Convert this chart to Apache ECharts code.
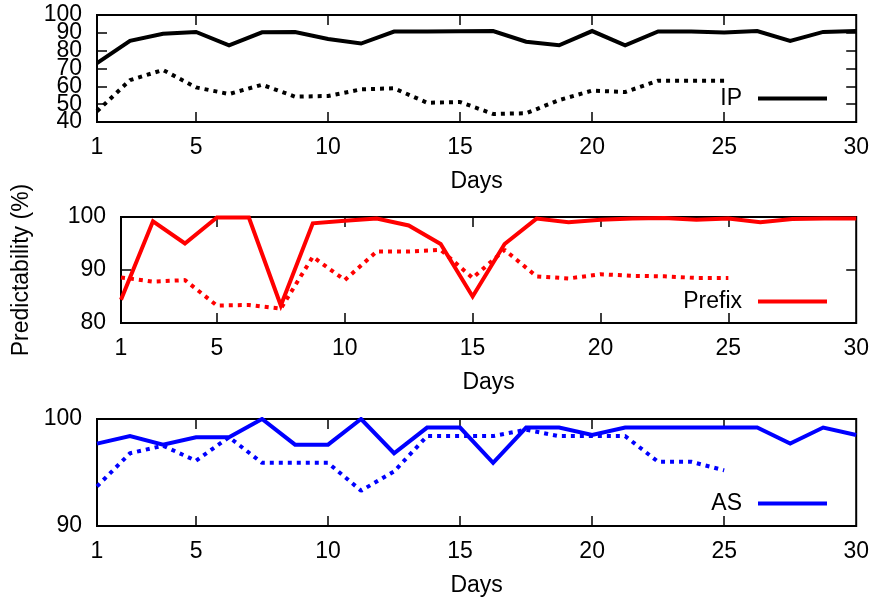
<!DOCTYPE html>
<html>
<head>
<meta charset="utf-8">
<script src="https://cdn.jsdelivr.net/npm/echarts@6/dist/echarts.min.js"></script>
<style>
  html, body { margin: 0; padding: 0; background: #fff; }
  #chart { width: 872px; height: 602px; }
</style>
</head>
<body>
<div id="chart"></div>
<script>
// x positions of the samples (days)
var days = [1.25, 2.5, 3.75, 5, 6.25, 7.5, 8.75, 10, 11.25, 12.5, 13.75, 15,
  16.25, 17.5, 18.75, 20, 21.25, 22.5, 23.75, 25, 26.25, 27.5, 28.75, 30]
var xTickValues = [5, 10, 15, 20, 25]
var xLabelValues = [1.25, 5, 10, 15, 20, 25, 30]

// IP panel
var ipSolid = [73, 85.5, 89.5, 90.5, 83, 90.3, 90.5, 86.5, 84, 90.7, 90.8, 90.9,
  91, 85, 83, 91, 83, 90.8, 90.8, 90.2, 91, 85.5, 90.5, 91]
var ipDotted = [46, 63.5, 69.2, 59.4, 55.7, 60.9, 54.2, 54.6, 58.3, 58.9, 50.8, 51.2,
  44.5, 44.9, 52.3, 57.6, 56.8, 63.2, 63.2, 63.2]

// Prefix panel
var prefixSolid = [84.4, 99.2, 95, 99.9, 99.9, 83.3, 98.8, 99.3, 99.7, 98.4, 94.9, 85,
  94.9, 99.7, 99, 99.5, 99.7, 99.8, 99.5, 99.7, 99, 99.6, 99.7, 99.7]
var prefixDotted = [88.6, 87.8, 88.1, 83.3, 83.4, 82.7, 92.5, 88.1, 93.5, 93.5, 93.8, 88.5,
  93.8, 88.8, 88.4, 89.2, 88.9, 88.8, 88.5, 88.5]

// AS panel
var asSolid = [97.7, 98.4, 97.6, 98.3, 98.3, 100, 97.6, 97.6, 100, 96.8, 99.2, 99.2,
  95.9, 99.2, 99.2, 98.5, 99.2, 99.2, 99.2, 99.2, 99.2, 97.7, 99.2, 98.5]
var asDotted = [93.7, 96.8, 97.5, 96.1, 98.3, 95.9, 95.9, 95.9, 93.3, 95.1, 98.4, 98.4,
  98.4, 99, 98.4, 98.4, 98.4, 96, 96, 95.2]

var yRanges = [[40, 100], [80, 100], [90, 100]]
// y tick labels, split in two sets so the tightly packed IP labels all stay visible
var yLabelsA = [[40, 60, 80, 100], [80, 90, 100], [90, 100]]
var yLabelsB = [[50, 70, 90], [], []]
var names = ['IP', 'Prefix', 'AS']
var colors = ['#000000', '#ff0000', '#0000ff']

var FONT = 'Liberation Sans, Arial, Helvetica, sans-serif'
var FS = 23

function pairs (vals) {
  return vals.map(function (v, i) { return [days[i], v] })
}

var chart = echarts.init(document.getElementById('chart'))

var grids = [
  { left: 97, top: 15, right: 15, height: 107 },
  { left: 121, top: 217, right: 15, height: 106 },
  { left: 97, top: 419, right: 15, height: 107 }
]
var legendTops = [87, 290, 492]

var xAxes = []
var yAxes = []
var series = []
var legends = []
var mainY = []

var solids = [ipSolid, prefixSolid, asSolid]
var dotteds = [ipDotted, prefixDotted, asDotted]

grids.forEach(function (g, k) {
  g.show = true
  g.borderColor = '#000'
  g.borderWidth = 2
  g.containLabel = false
  var tickStyle = { color: '#000', width: 1.5 }
  // bottom axis with labels
  xAxes.push({
    type: 'value', gridIndex: k, min: 1.25, max: 30,
    position: 'bottom',
    name: 'Days', nameLocation: 'middle', nameGap: 48,
    nameTextStyle: { fontFamily: FONT, fontSize: FS, color: '#000' },
    axisLine: { show: false },
    splitLine: { show: false },
    axisTick: { inside: true, length: 10, customValues: xTickValues, lineStyle: tickStyle },
    axisLabel: {
      customValues: xLabelValues, margin: 14,
      fontFamily: FONT, fontSize: FS, color: '#000',
      showMinLabel: true, showMaxLabel: true,
      formatter: function (v) { return v === 1.25 ? '1' : String(v) }
    }
  })
  // top mirror ticks
  xAxes.push({
    type: 'value', gridIndex: k, min: 1.25, max: 30,
    position: 'top',
    axisLine: { show: false },
    splitLine: { show: false },
    axisTick: { inside: true, length: 10, customValues: xTickValues, lineStyle: tickStyle },
    axisLabel: { show: false }
  })
  mainY.push(yAxes.length)
  yAxes.push({
    type: 'value', gridIndex: k, min: yRanges[k][0], max: yRanges[k][1], interval: 10,
    position: 'left',
    axisLine: { show: false },
    splitLine: { show: false },
    axisTick: { inside: true, length: 10, lineStyle: tickStyle },
    axisLabel: {
      customValues: yLabelsA[k],
      margin: 15, fontFamily: FONT, fontSize: FS, color: '#000',
      showMinLabel: true, showMaxLabel: true
    }
  })
  if (yLabelsB[k].length) {
    yAxes.push({
      type: 'value', gridIndex: k, min: yRanges[k][0], max: yRanges[k][1], interval: 10,
      position: 'left', offset: 0,
      axisLine: { show: false },
      splitLine: { show: false },
      axisTick: { show: false },
      axisLabel: {
        customValues: yLabelsB[k],
        margin: 15, fontFamily: FONT, fontSize: FS, color: '#000'
      }
    })
  }
  // right mirror ticks
  yAxes.push({
    type: 'value', gridIndex: k, min: yRanges[k][0], max: yRanges[k][1], interval: 10,
    position: 'right',
    axisLine: { show: false },
    splitLine: { show: false },
    axisTick: { inside: true, length: 10, lineStyle: tickStyle },
    axisLabel: { show: false }
  })
  legends.push({
    data: [{ name: names[k], icon: 'rect' }],
    right: 45, top: legendTops[k], padding: 0,
    align: 'right', itemWidth: 69, itemHeight: 4,
    selectedMode: false,
    textStyle: { fontFamily: FONT, fontSize: FS, color: '#000', padding: [0, 11, 0, 0] }
  })

  series.push({
    name: names[k], type: 'line', xAxisIndex: 2 * k, yAxisIndex: mainY[k],
    data: pairs(solids[k]), symbol: 'none', animation: false,
    itemStyle: { color: colors[k] },
    lineStyle: { color: colors[k], width: 4, join: 'miter' }
  })
  series.push({
    name: names[k] + ' (dotted)', type: 'line', xAxisIndex: 2 * k, yAxisIndex: mainY[k],
    data: pairs(dotteds[k]), symbol: 'none', animation: false,
    itemStyle: { color: colors[k] },
    lineStyle: { color: colors[k], width: 4, type: [4, 5], cap: 'butt' }
  })
})

var option = {
  backgroundColor: '#fff',
  animation: false,
  grid: grids,
  xAxis: xAxes,
  yAxis: yAxes,
  legend: legends,
  series: series,
  graphic: [{
    type: 'text', x: 22, y: 270, rotation: Math.PI / 2,
    style: {
      text: 'Predictability (%)', fontFamily: FONT, fontSize: FS, fill: '#000',
      align: 'center', verticalAlign: 'middle'
    }
  }]
}
chart.setOption(option)
</script>
</body>
</html>
